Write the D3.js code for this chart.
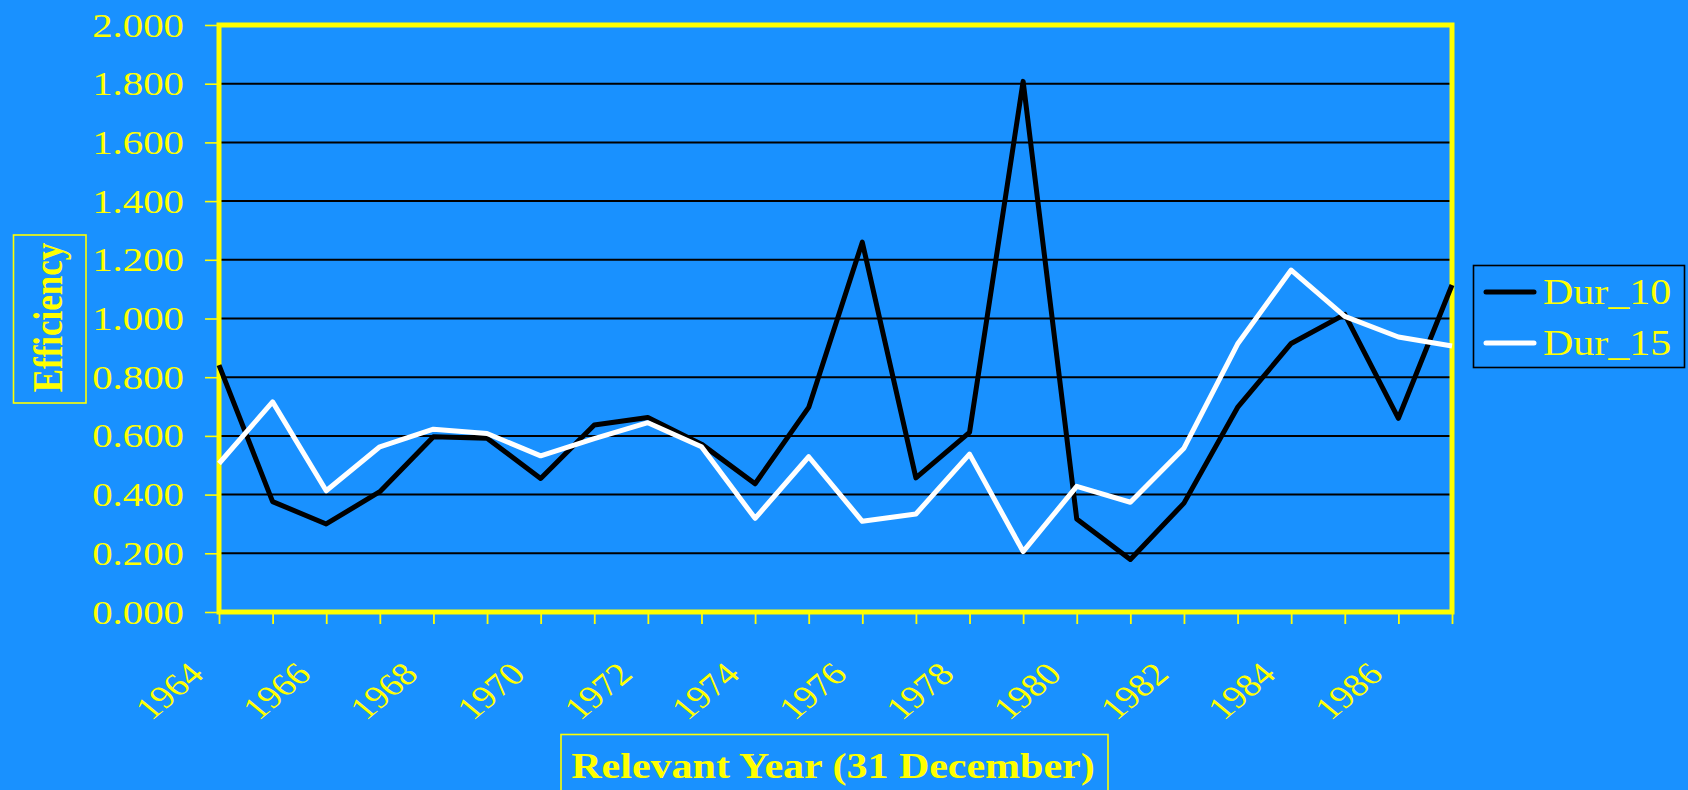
<!DOCTYPE html>
<html>
<head>
<meta charset="utf-8">
<script src="https://cdn.jsdelivr.net/npm/d3@7"></script>
<style>
  html, body { margin: 0; padding: 0; background: #1991ff; }
  svg { display: block; }
  text { font-family: "Liberation Serif", "Times New Roman", serif; fill: #ffff00; }
</style>
</head>
<body>
<svg id="chart" width="1688" height="790"></svg>
<script>
// Efficiency by relevant year for two durations
const years = [1964, 1965, 1966, 1967, 1968, 1969, 1970, 1971, 1972, 1973, 1974, 1975,
               1976, 1977, 1978, 1979, 1980, 1981, 1982, 1983, 1984, 1985, 1986, 1987];
const dur10 = [0.841, 0.376, 0.300, 0.410, 0.597, 0.592, 0.455, 0.637, 0.663, 0.572, 0.437, 0.697,
               1.260, 0.457, 0.612, 1.808, 0.317, 0.179, 0.371, 0.697, 0.915, 1.014, 0.660, 1.114];
const dur15 = [0.506, 0.716, 0.413, 0.563, 0.623, 0.608, 0.532, 0.591, 0.645, 0.563, 0.319, 0.529,
               0.309, 0.334, 0.538, 0.206, 0.428, 0.374, 0.558, 0.913, 1.165, 1.007, 0.937, 0.906];
const yTicks = [0, 0.2, 0.4, 0.6, 0.8, 1.0, 1.2, 1.4, 1.6, 1.8, 2.0];
const yearLabels = [1964, 1966, 1968, 1970, 1972, 1974, 1976, 1978, 1980, 1982, 1984, 1986];
const seriesNames = ["Dur_10", "Dur_15"];
const seriesColors = ["#000000", "#ffffff"];

const svg = d3.select("#chart");
const YELLOW = "#ffff00";
const SX = 1.2; // horizontal text stretch

const plot = { left: 219, right: 1452, top: 25, bottom: 612 };
const x = d3.scalePoint().domain(years).range([plot.left, plot.right]);
const y = d3.scaleLinear().domain([0, 2]).range([plot.bottom, plot.top]);

// horizontal gridlines
svg.append("g").selectAll("line")
  .data(yTicks.filter(v => v > 0 && v < 2))
  .join("line")
  .attr("x1", plot.left).attr("x2", plot.right)
  .attr("y1", d => y(d)).attr("y2", d => y(d))
  .attr("stroke", "#000").attr("stroke-width", 2);

// y axis ticks and labels
const yAxis = svg.append("g").attr("transform", `translate(${plot.left},0)`)
  .call(d3.axisLeft(y).tickValues(yTicks).tickSize(14).tickFormat(d3.format(".3f")));
yAxis.select(".domain").remove();
yAxis.selectAll(".tick line").attr("stroke", YELLOW).attr("stroke-width", 1.6);
yAxis.selectAll(".tick text")
  .attr("x", null).attr("dy", null)
  .attr("text-anchor", "end")
  .attr("font-size", 34)
  .attr("font-family", "Liberation Serif, serif")
  .attr("fill", YELLOW)
  .attr("transform", `translate(${184 - plot.left},11) scale(${SX},1)`);

// x axis ticks and labels
const xAxis = svg.append("g").attr("transform", `translate(0,${plot.bottom})`)
  .call(d3.axisBottom(x).tickSize(12).tickFormat(d => yearLabels.includes(d) ? String(d) : ""));
xAxis.select(".domain").remove();
xAxis.selectAll(".tick line").attr("stroke", YELLOW).attr("stroke-width", 1.8);
xAxis.selectAll(".tick text")
  .attr("y", null).attr("dy", null)
  .attr("text-anchor", "end")
  .attr("font-size", 32)
  .attr("font-family", "Liberation Serif, serif")
  .attr("fill", YELLOW)
  .attr("transform", `translate(-14,64) scale(${SX},1) rotate(-45)`);

// plot border
svg.append("rect")
  .attr("x", plot.left).attr("y", plot.top)
  .attr("width", plot.right - plot.left).attr("height", plot.bottom - plot.top)
  .attr("fill", "none").attr("stroke", YELLOW).attr("stroke-width", 5);

// series lines
const line = d3.line().x((d, i) => x(years[i])).y(d => y(d));
[dur10, dur15].forEach((vals, k) => {
  svg.append("path")
    .datum(vals)
    .attr("d", line)
    .attr("fill", "none")
    .attr("stroke", seriesColors[k])
    .attr("stroke-width", 5)
    .attr("stroke-linejoin", "round");
});

// y axis title
svg.append("rect")
  .attr("x", 13.5).attr("y", 235).attr("width", 72.5).attr("height", 168)
  .attr("fill", "none").attr("stroke", YELLOW).attr("stroke-width", 1.6);
svg.append("text")
  .attr("transform", `translate(62,317.5) scale(${SX},1) rotate(-90)`)
  .attr("text-anchor", "middle")
  .attr("font-size", 35).attr("font-weight", "bold")
  .text("Efficiency");

// x axis title
svg.append("rect")
  .attr("x", 561).attr("y", 734.5).attr("width", 547).attr("height", 70)
  .attr("fill", "none").attr("stroke", YELLOW).attr("stroke-width", 1.6);
svg.append("text")
  .attr("transform", `translate(833,777.5) scale(${SX},1)`)
  .attr("text-anchor", "middle")
  .attr("font-size", 35).attr("font-weight", "bold")
  .text("Relevant Year (31 December)");

// legend
const legend = svg.append("g");
legend.append("rect")
  .attr("x", 1473.5).attr("y", 265.5).attr("width", 211).attr("height", 102)
  .attr("fill", "none").attr("stroke", "#000").attr("stroke-width", 1.6);
const legendY = [292, 343];
seriesNames.forEach((name, k) => {
  legend.append("line")
    .attr("x1", 1486).attr("x2", 1534)
    .attr("y1", legendY[k]).attr("y2", legendY[k])
    .attr("stroke", seriesColors[k]).attr("stroke-width", 5)
    .attr("stroke-linecap", "round");
  legend.append("text")
    .attr("transform", `translate(1543,${legendY[k] + 12}) scale(${SX},1)`)
    .attr("font-size", 35)
    .text(name);
});
</script>
</body>
</html>
